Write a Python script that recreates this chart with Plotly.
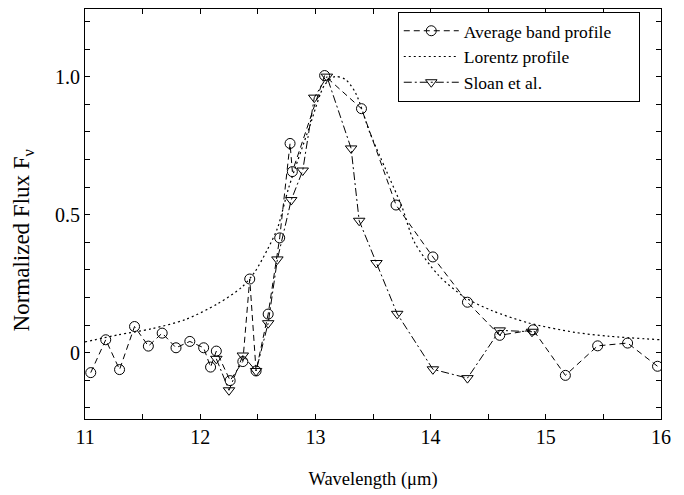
import plotly.graph_objects as go

# Average band profile (circles)
avg_x = [11.05, 11.18, 11.30, 11.43, 11.55, 11.67, 11.79, 11.91, 12.03, 12.09,
         12.14, 12.26, 12.37, 12.43, 12.485, 12.59, 12.69, 12.78, 12.80, 13.08,
         13.40, 13.70, 14.02, 14.32, 14.60, 14.89, 15.17, 15.45, 15.71, 15.97]
avg_y = [-0.072, 0.047, -0.061, 0.095, 0.024, 0.071, 0.018, 0.041, 0.018, -0.052,
         0.006, -0.101, -0.032, 0.267, -0.066, 0.14, 0.416, 0.758, 0.656, 1.004,
         0.884, 0.535, 0.347, 0.183, 0.063, 0.083, -0.082, 0.025, 0.035, -0.049]

# Lorentz profile (dotted)
lor_x = [11.0, 11.29, 11.58, 11.87, 12.15, 12.36, 12.47, 12.585, 12.67, 12.77,
         12.95, 13.08, 13.17, 13.26, 13.35, 13.47, 13.61, 13.75, 13.86, 14.07,
         14.30, 14.53, 14.85, 15.25, 15.54, 16.0]
lor_y = [0.039, 0.065, 0.087, 0.12, 0.177, 0.237, 0.29, 0.375, 0.45, 0.60,
         0.82, 0.97, 1.0, 0.99, 0.94, 0.80, 0.664, 0.53, 0.40, 0.28,
         0.20, 0.153, 0.108, 0.074, 0.06, 0.047]

# Sloan et al. (triangles)
sl_x = [12.14, 12.25, 12.37, 12.485, 12.59, 12.67, 12.79, 12.89, 12.99, 13.10,
        13.31, 13.38, 13.53, 13.71, 14.02, 14.32, 14.60, 14.88]
sl_y = [-0.022, -0.136, -0.01, -0.066, 0.107, 0.338, 0.553, 0.66, 0.924, 1.0,
        0.74, 0.478, 0.325, 0.141, -0.06, -0.092, 0.081, 0.076]

x_ticks = [11, 12, 13, 14, 15, 16]
y_ticks = [0, 0.5, 1.0]
y_ticktext = ["0", "0.5", "1.0"]

FONT = "Liberation Serif"
PAD = "\u00a0" * 5

fig = go.Figure()
fig.add_trace(go.Scatter(
    x=avg_x, y=avg_y, mode="lines+markers", name="Average band profile" + PAD,
    line=dict(color="black", width=1, dash="6px,4px"),
    marker=dict(symbol="circle-open", size=10, color="black", line=dict(width=1)),
))
fig.add_trace(go.Scatter(
    x=lor_x, y=lor_y, mode="lines", name="Lorentz profile",
    line=dict(color="black", width=1.2, dash="2px,3px", shape="spline", smoothing=0.8),
))
fig.add_trace(go.Scatter(
    x=sl_x, y=sl_y, mode="lines+markers", name="Sloan et al.",
    line=dict(color="black", width=1, dash="8px,3px,2px,3px"),
    marker=dict(symbol="triangle-down-open", size=10, color="black", line=dict(width=1)),
))

axis_common = dict(
    showline=True, linecolor="black", linewidth=1, mirror="ticks",
    ticks="inside", ticklen=5, tickcolor="black", tickwidth=1,
    showgrid=False, zeroline=False,
    tickfont=dict(family=FONT, size=20, color="black"),
)

fig.update_xaxes(
    range=[11, 16], tickvals=x_ticks,
    minor=dict(dtick=0.5, ticks="inside", ticklen=5, tickcolor="black", showgrid=False),
    title=dict(text="Wavelength (\u03bcm)", font=dict(family=FONT, size=18.5, color="black"), standoff=25),
    **axis_common,
)
fig.update_yaxes(
    range=[-0.24, 1.245], tickvals=y_ticks, ticktext=y_ticktext,
    minor=dict(dtick=0.1, ticks="inside", ticklen=5, tickcolor="black", showgrid=False),
    **axis_common,
)

fig.add_annotation(
    text="Normalized Flux F<sub>\u03bd</sub>", textangle=-90,
    xref="paper", yref="paper", x=-0.108, y=0.435,
    xanchor="center", yanchor="middle", showarrow=False,
    font=dict(family=FONT, size=23, color="black"),
)

fig.update_layout(
    width=684, height=495,
    margin=dict(l=85, r=23, t=9, b=76),
    paper_bgcolor="white", plot_bgcolor="white",
    showlegend=True,
    legend=dict(
        x=0.543, y=0.993, xanchor="left", yanchor="top",
        bordercolor="black", borderwidth=1, bgcolor="white",
        font=dict(family=FONT, size=17.5, color="black"),
        itemwidth=55, tracegroupgap=0,
    ),
)

fig.write_html("out.html", config={"displayModeBar": False},
               post_script="document.body.style.margin='0';")
